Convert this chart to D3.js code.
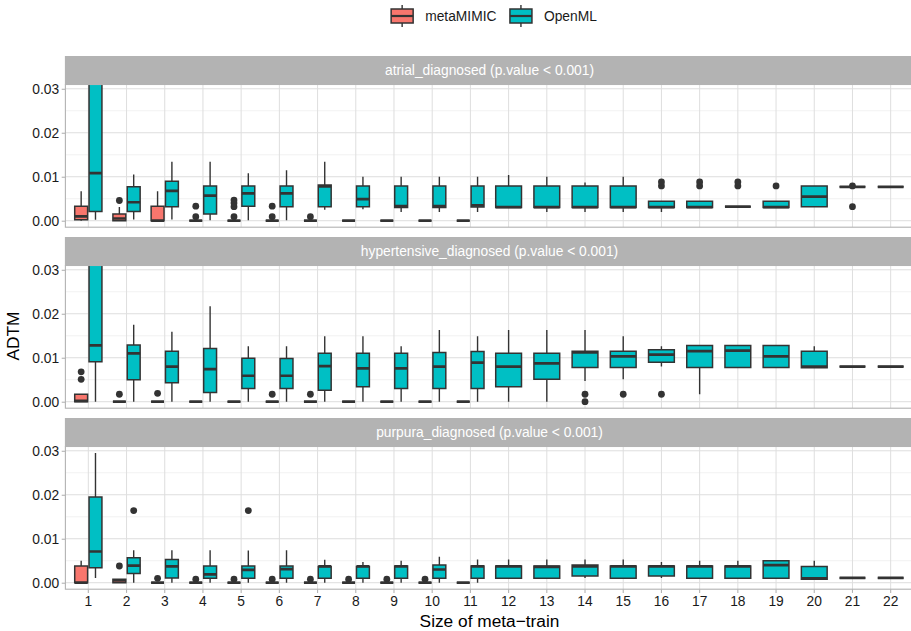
<!DOCTYPE html>
<html>
<head>
<meta charset="utf-8">
<script src="https://cdn.jsdelivr.net/npm/d3@7"></script>
<style>
  html, body { margin: 0; padding: 0; background: #ffffff; }
  svg { display: block; font-family: "Liberation Sans", Arial, Helvetica, sans-serif; }
</style>
</head>
<body>
<svg id="chart" width="911" height="631"></svg>
<script>
// ---- data -------------------------------------------------------------
const sizes = ["1","2","3","4","5","6","7","8","9","10","11","12","13","14","15","16","17","18","19","20","21","22"];
const groups = ["metaMIMIC", "OpenML"];
const facetNames = ["atrial_diagnosed", "hypertensive_diagnosed", "purpura_diagnosed"];
const facetPValues = ["p.value < 0.001", "p.value < 0.001", "p.value < 0.001"];
const yTicks = [0, 0.01, 0.02, 0.03];
const yMinorTicks = [0.005, 0.015, 0.025];
const xTitle = "Size of meta\u2212train";
const yTitle = "ADTM";

// five-number summaries per meta-train size: [lower whisker, Q1, median, Q3, upper whisker]
const atrialMetaMIMIC = [
  [0, 0.0002, 0.0010, 0.0033, 0.0067],
  [0, 0, 0.0005, 0.0015, 0.0031],
  [0, 0, 0, 0.0033, 0.0067],
  [0, 0, 0, 0, 0],
  [0, 0, 0, 0, 0],
  [0, 0, 0, 0, 0],
  [0, 0, 0, 0, 0],
  [0, 0, 0, 0, 0],
  [0, 0, 0, 0, 0],
  [0, 0, 0, 0, 0],
  [0, 0, 0, 0, 0]
];
const atrialMetaMIMICOutliers = [[], [0.0046], [], [0.0009, 0.0033], [0.0009, 0.0032, 0.0040, 0.0047], [0.0009, 0.0033], [0.0009], [], [], [], []];

const atrialOpenML = [
  [0.0002, 0.0021, 0.0108, 0.0360, 0.0600],
  [0.0003, 0.0021, 0.0042, 0.0077, 0.0105],
  [0.0003, 0.0032, 0.0068, 0.0090, 0.0134],
  [0.0001, 0.0015, 0.0057, 0.0079, 0.0134],
  [0.0001, 0.0033, 0.0062, 0.0079, 0.0108],
  [0.0001, 0.0032, 0.0062, 0.0079, 0.0115],
  [0.0025, 0.0032, 0.0078, 0.0081, 0.0134],
  [0.0026, 0.0032, 0.0049, 0.0079, 0.0100],
  [0.0020, 0.0030, 0.0033, 0.0079, 0.0100],
  [0.0020, 0.0030, 0.0033, 0.0079, 0.0100],
  [0.0020, 0.0031, 0.0035, 0.0079, 0.0100],
  [0.0030, 0.0030, 0.0031, 0.0079, 0.0104],
  [0.0020, 0.0030, 0.0031, 0.0079, 0.0100],
  [0.0020, 0.0030, 0.0031, 0.0079, 0.0087],
  [0.0020, 0.0030, 0.0031, 0.0079, 0.0100],
  [0.0020, 0.0030, 0.0031, 0.0044, 0.0044],
  [0.0030, 0.0030, 0.0031, 0.0044, 0.0044],
  [0.0032, 0.0032, 0.0032, 0.0032, 0.0032],
  [0.0030, 0.0030, 0.0031, 0.0044, 0.0044],
  [0.0032, 0.0032, 0.0055, 0.0079, 0.0079],
  [0.0077, 0.0077, 0.0077, 0.0077, 0.0077],
  [0.0077, 0.0077, 0.0077, 0.0077, 0.0077]
];
const atrialOpenMLOutliers = [[], [], [], [], [], [], [], [], [], [], [], [], [], [], [],
  [0.0079, 0.0088], [0.0079, 0.0088], [0.0079, 0.0088], [0.0079], [], [0.0079, 0.0032], []];

const hypertensiveMetaMIMIC = [
  [0, 0, 0.0002, 0.0017, 0.0017],
  [0, 0, 0, 0, 0],
  [0, 0, 0, 0, 0],
  [0, 0, 0, 0, 0],
  [0, 0, 0, 0, 0],
  [0, 0, 0, 0, 0],
  [0, 0, 0, 0, 0],
  [0, 0, 0, 0, 0],
  [0, 0, 0, 0, 0],
  [0, 0, 0, 0, 0],
  [0, 0, 0, 0, 0]
];
const hypertensiveMetaMIMICOutliers = [[0.0051, 0.0068], [0.0017], [0.0019], [], [], [0.0017], [0.0017], [], [], [], []];

const hypertensiveOpenML = [
  [0, 0.0091, 0.0128, 0.0400, 0.0600],
  [0, 0.0050, 0.0110, 0.0129, 0.0175],
  [0, 0.0043, 0.0080, 0.0115, 0.0159],
  [0, 0.0021, 0.0074, 0.0121, 0.0217],
  [0, 0.0030, 0.0059, 0.0099, 0.0126],
  [0, 0.0030, 0.0059, 0.0098, 0.0126],
  [0, 0.0026, 0.0081, 0.0110, 0.0149],
  [0, 0.0034, 0.0076, 0.0110, 0.0149],
  [0, 0.0030, 0.0076, 0.0110, 0.0126],
  [0, 0.0030, 0.0080, 0.0112, 0.0163],
  [0, 0.0030, 0.0089, 0.0114, 0.0149],
  [0, 0.0034, 0.0080, 0.0110, 0.0163],
  [0, 0.0051, 0.0087, 0.0110, 0.0163],
  [0.0047, 0.0078, 0.0112, 0.0115, 0.0163],
  [0.0051, 0.0078, 0.0103, 0.0115, 0.0149],
  [0.0080, 0.0090, 0.0107, 0.0118, 0.0126],
  [0.0017, 0.0078, 0.0115, 0.0128, 0.0128],
  [0.0078, 0.0078, 0.0116, 0.0128, 0.0128],
  [0.0078, 0.0078, 0.0103, 0.0128, 0.0128],
  [0.0077, 0.0077, 0.0080, 0.0115, 0.0126],
  [0.0080, 0.0080, 0.0080, 0.0080, 0.0080],
  [0.0080, 0.0080, 0.0080, 0.0080, 0.0080]
];
const hypertensiveOpenMLOutliers = [[], [], [], [], [], [], [], [], [], [], [], [], [],
  [0, 0.0017], [0.0017], [0.0017], [], [], [], [], [], []];

const purpuraMetaMIMIC = [
  [0, 0, 0, 0.0038, 0.0050],
  [0, 0, 0.0005, 0.0008, 0.0008],
  [0, 0, 0, 0, 0],
  [0, 0, 0, 0, 0],
  [0, 0, 0, 0, 0],
  [0, 0, 0, 0, 0],
  [0, 0, 0, 0, 0],
  [0, 0, 0, 0, 0],
  [0, 0, 0, 0, 0],
  [0, 0, 0, 0, 0],
  [0, 0, 0, 0, 0]
];
const purpuraMetaMIMICOutliers = [[], [0.0038], [0.0010], [0.0008], [0.0008], [0.0008], [0.0008], [0.0008], [0.0008], [0.0008], []];

const purpuraOpenML = [
  [0.0011, 0.0034, 0.0071, 0.0195, 0.0295],
  [0, 0.0021, 0.0039, 0.0057, 0.0074],
  [0, 0.0011, 0.0037, 0.0053, 0.0074],
  [0, 0.0010, 0.0019, 0.0038, 0.0074],
  [0, 0.0010, 0.0029, 0.0038, 0.0073],
  [0, 0.0010, 0.0031, 0.0038, 0.0074],
  [0, 0.0010, 0.0037, 0.0037, 0.0052],
  [0, 0.0010, 0.0037, 0.0037, 0.0047],
  [0, 0.0010, 0.0037, 0.0038, 0.0050],
  [0, 0.0010, 0.0030, 0.0040, 0.0059],
  [0, 0.0010, 0.0037, 0.0038, 0.0053],
  [0.0010, 0.0010, 0.0037, 0.0038, 0.0053],
  [0.0010, 0.0010, 0.0036, 0.0038, 0.0053],
  [0.0011, 0.0015, 0.0037, 0.0040, 0.0053],
  [0.0010, 0.0010, 0.0037, 0.0038, 0.0053],
  [0.0011, 0.0015, 0.0037, 0.0038, 0.0047],
  [0.0010, 0.0010, 0.0037, 0.0038, 0.0050],
  [0.0010, 0.0010, 0.0037, 0.0038, 0.0050],
  [0.0010, 0.0010, 0.0040, 0.0050, 0.0050],
  [0.0008, 0.0008, 0.0010, 0.0037, 0.0050],
  [0.0011, 0.0011, 0.0011, 0.0011, 0.0011],
  [0.0011, 0.0011, 0.0011, 0.0011, 0.0011]
];
const purpuraOpenMLOutliers = [[], [0.0164], [], [], [0.0164], [], [], [], [], [], [], [], [], [], [], [], [], [], [], [], [], []];

const facets = [
  { name: facetNames[0], p: facetPValues[0],
    stats: { metaMIMIC: atrialMetaMIMIC, OpenML: atrialOpenML },
    outliers: { metaMIMIC: atrialMetaMIMICOutliers, OpenML: atrialOpenMLOutliers } },
  { name: facetNames[1], p: facetPValues[1],
    stats: { metaMIMIC: hypertensiveMetaMIMIC, OpenML: hypertensiveOpenML },
    outliers: { metaMIMIC: hypertensiveMetaMIMICOutliers, OpenML: hypertensiveOpenMLOutliers } },
  { name: facetNames[2], p: facetPValues[2],
    stats: { metaMIMIC: purpuraMetaMIMIC, OpenML: purpuraOpenML },
    outliers: { metaMIMIC: purpuraMetaMIMICOutliers, OpenML: purpuraOpenMLOutliers } }
];

// ---- layout -----------------------------------------------------------
const svg = d3.select("#chart");
const panelLeft = 65.4, panelRight = 913.6;
const firstStripTop = 56, stripH = 28.5, panelH = 142.7, panelGap = 9.8;
const yDomain = [-0.001475, 0.030975];
const ink = "#333333", frame = "#B3B3B3", gridMajor = "#DEDEDE", gridMinor = "#EBEBEB";
const smallFont = 13.8, titleFont = 17.3;

const x = d3.scaleBand().domain(sizes).range([panelLeft, panelRight])
  .paddingInner(0).paddingOuter(0.1);
const step = x.step();
const cx = s => x(s) + x.bandwidth() / 2;
const color = d3.scaleOrdinal().domain(groups).range(["#F8766D", "#00BFC4"]);

facets.forEach((f, k) => {
  const stripTop = firstStripTop + k * (stripH + panelH + panelGap);
  const pTop = stripTop + stripH, pBot = pTop + panelH;
  const y = d3.scaleLinear().domain(yDomain).range([pBot, pTop]);
  const g = svg.append("g");

  // grid
  g.append("g").selectAll("line").data(yMinorTicks).join("line")
    .attr("x1", panelLeft).attr("x2", panelRight)
    .attr("y1", d => y(d)).attr("y2", d => y(d))
    .attr("stroke", gridMinor).attr("stroke-width", 0.7);
  g.append("g").selectAll("line").data(yTicks).join("line")
    .attr("x1", panelLeft).attr("x2", panelRight)
    .attr("y1", d => y(d)).attr("y2", d => y(d))
    .attr("stroke", gridMajor).attr("stroke-width", 1);
  g.append("g").selectAll("line").data(sizes).join("line")
    .attr("x1", d => cx(d)).attr("x2", d => cx(d))
    .attr("y1", pTop).attr("y2", pBot)
    .attr("stroke", gridMajor).attr("stroke-width", 1);

  // clip to the panel
  const clipId = "panel-clip-" + k;
  svg.append("clipPath").attr("id", clipId).append("rect")
    .attr("x", panelLeft).attr("y", pTop)
    .attr("width", panelRight - panelLeft).attr("height", panelH);
  const plot = g.append("g").attr("clip-path", `url(#${clipId})`);

  sizes.forEach((s, i) => {
    const present = groups.filter(gr => f.stats[gr][i]);
    const n = present.length;
    const slot = 0.75 * step / n;
    present.forEach((gr, j) => {
      const [lo, q1, med, q3, hi] = f.stats[gr][i];
      const c = cx(s) - 0.75 * step / 2 + slot * (j + 0.5);
      const bw = slot * 0.9;
      const bx = c - bw / 2;
      const bg = plot.append("g");
      // outliers
      bg.selectAll("circle").data(f.outliers[gr][i] || []).join("circle")
        .attr("cx", c).attr("cy", d => y(d)).attr("r", 3.4)
        .attr("fill", ink);
      // whiskers
      bg.append("line").attr("x1", c).attr("x2", c)
        .attr("y1", y(q3)).attr("y2", y(hi))
        .attr("stroke", ink).attr("stroke-width", 1.4);
      bg.append("line").attr("x1", c).attr("x2", c)
        .attr("y1", y(q1)).attr("y2", y(lo))
        .attr("stroke", ink).attr("stroke-width", 1.4);
      // box
      bg.append("path")
        .attr("d", `M${bx},${y(q1)}H${bx + bw}V${y(q3)}H${bx}Z`)
        .attr("fill", color(gr)).attr("stroke", ink).attr("stroke-width", 1.5);
      // median
      bg.append("line").attr("x1", bx).attr("x2", bx + bw)
        .attr("y1", y(med)).attr("y2", y(med))
        .attr("stroke", ink).attr("stroke-width", 2.7);
    });
  });

  // panel border
  g.append("rect").attr("x", panelLeft).attr("y", pTop)
    .attr("width", panelRight - panelLeft).attr("height", panelH)
    .attr("fill", "none").attr("stroke", frame).attr("stroke-width", 1.1);

  // strip
  g.append("rect").attr("x", panelLeft - 0.5).attr("y", stripTop)
    .attr("width", panelRight - panelLeft + 1).attr("height", stripH)
    .attr("fill", frame);
  g.append("text").attr("x", (panelLeft + panelRight) / 2).attr("y", stripTop + stripH / 2)
    .attr("dy", "0.35em").attr("text-anchor", "middle")
    .attr("fill", "#ffffff").attr("font-size", smallFont)
    .text(`${f.name} (${f.p})`);

  // y axis
  const yAxis = g.append("g").attr("transform", `translate(${panelLeft},0)`)
    .call(d3.axisLeft(y).tickValues(yTicks).tickFormat(d3.format(".2f"))
      .tickSize(3.7).tickPadding(2.5));
  yAxis.select(".domain").remove();
  yAxis.selectAll(".tick line").attr("stroke", frame).attr("stroke-width", 1.1);
  yAxis.selectAll(".tick text").attr("fill", "#1a1a1a")
    .attr("font-size", smallFont).attr("font-family", null);

  // x axis on the bottom panel only
  if (k === facets.length - 1) {
    const xAxis = g.append("g").attr("transform", `translate(0,${pBot})`)
      .call(d3.axisBottom(x).tickSize(3.7).tickPadding(3));
    xAxis.select(".domain").remove();
    xAxis.selectAll(".tick line").attr("stroke", frame).attr("stroke-width", 1.1);
    xAxis.selectAll(".tick text").attr("fill", "#1a1a1a")
      .attr("font-size", smallFont).attr("font-family", null);
  }
});

// axis titles
svg.append("text")
  .attr("x", (panelLeft + panelRight) / 2).attr("y", 627)
  .attr("text-anchor", "middle").attr("font-size", titleFont).attr("fill", "#000")
  .text(xTitle);
svg.append("text")
  .attr("transform", "translate(18.5,336) rotate(-90)")
  .attr("text-anchor", "middle").attr("font-size", titleFont).attr("fill", "#000")
  .text(yTitle);

// legend
const legend = svg.append("g");
const keyW = 22, keyGap = 12, itemGap = 13.5, legendCY = 16;
const items = groups.map(gr => {
  const it = legend.append("g");
  it.append("line").attr("x1", keyW / 2).attr("x2", keyW / 2)
    .attr("y1", legendCY - 11).attr("y2", legendCY + 11)
    .attr("stroke", ink).attr("stroke-width", 1.4);
  it.append("rect").attr("x", 0).attr("y", legendCY - 7)
    .attr("width", keyW).attr("height", 14)
    .attr("fill", color(gr)).attr("stroke", ink).attr("stroke-width", 1.5);
  it.append("line").attr("x1", 0).attr("x2", keyW)
    .attr("y1", legendCY).attr("y2", legendCY)
    .attr("stroke", ink).attr("stroke-width", 2.2);
  const t = it.append("text").attr("x", keyW + keyGap).attr("y", legendCY)
    .attr("dy", "0.35em").attr("font-size", smallFont).attr("fill", "#1a1a1a").text(gr);
  return { g: it, w: keyW + keyGap + t.node().getComputedTextLength() };
});
const totalW = d3.sum(items, d => d.w) + itemGap * (items.length - 1);
let lx = 494 - totalW / 2;
items.forEach(it => { it.g.attr("transform", `translate(${lx},0)`); lx += it.w + itemGap; });
</script>
</body>
</html>
